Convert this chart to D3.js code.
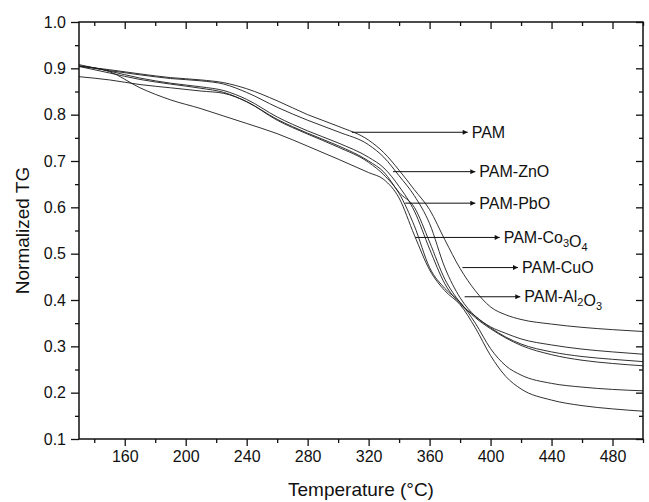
<!DOCTYPE html>
<html>
<head>
<meta charset="utf-8">
<script src="https://cdn.jsdelivr.net/npm/d3@7"></script>
<style>
  html, body { margin: 0; padding: 0; background: #fff; }
  svg { display: block; }
  text { font-family: "Liberation Sans", Arial, Helvetica, sans-serif; fill: #111; }
</style>
</head>
<body>
<svg id="chart" width="649" height="502"></svg>
<script>
// ---- data ----
const temps = [130,150,170,190,210,225,240,260,280,300,320,330,340,350,360,370,380,390,400,410,420,440,460,480,500];

const pam    = [.905,.897,.888,.880,.875,.869,.856,.830,.800,.775,.745,.718,.680,.638,.595,.530,.468,.420,.385,.368,.358,.348,.341,.336,.332];
const pamZnO = [.905,.895,.886,.878,.873,.866,.848,.816,.788,.763,.735,.708,.668,.625,.565,.470,.405,.365,.342,.328,.316,.303,.294,.288,.283];
const pamPbO = [.908,.894,.879,.868,.860,.852,.833,.795,.765,.739,.708,.685,.645,.592,.510,.435,.392,.365,.340,.320,.305,.288,.278,.272,.267];
const pamCo  = [.904,.890,.876,.866,.857,.848,.828,.790,.760,.733,.700,.676,.632,.600,.525,.445,.395,.362,.338,.318,.302,.282,.270,.263,.258];
const pamCuO = [.882,.875,.865,.858,.851,.846,.828,.788,.758,.730,.697,.670,.630,.560,.470,.425,.395,.350,.295,.258,.238,.220,.212,.207,.204];
const pamAl  = [.905,.893,.858,.832,.813,.797,.781,.759,.732,.704,.675,.660,.620,.540,.465,.420,.390,.340,.280,.235,.208,.184,.172,.165,.160];

const seriesNames = ["PAM","PAM-ZnO","PAM-PbO","PAM-Co3O4","PAM-CuO","PAM-Al2O3"];
const seriesValues = [pam, pamZnO, pamPbO, pamCo, pamCuO, pamAl];

// annotation arrows: label (with _n subscripts), y value, start temperature, end temperature
const arrowLabels = ["PAM","PAM-ZnO","PAM-PbO","PAM-Co_3O_4","PAM-CuO","PAM-Al_2O_3"];
const arrowY      = [0.762, 0.677, 0.609, 0.535, 0.470, 0.407];
const arrowStartT = [309, 336, 344, 350.5, 381.5, 383];
const arrowEndT   = [385, 390, 390, 406, 418, 419.5];

const xTicks = [160,200,240,280,320,360,400,440,480];
const yTicks = [0.1,0.2,0.3,0.4,0.5,0.6,0.7,0.8,0.9,1.0];

// ---- drawing ----
const svg = d3.select("#chart");
const L = 79, R = 643, T = 22, B = 439;
const x = d3.scaleLinear().domain([130, 500]).range([L, R]);
const y = d3.scaleLinear().domain([0.1, 1.0]).range([B, T]);

const minorX = d3.range(140, 501, 20).filter(v => !xTicks.includes(v));
const minorY = d3.range(0.15, 1.0, 0.1).map(v => +v.toFixed(2));

// curves
const line = d3.line().x(d => x(d[0])).y(d => y(d[1])).curve(d3.curveMonotoneX);
svg.append("g").selectAll("path").data(seriesValues).join("path")
  .attr("d", vals => line(temps.map((t, i) => [t, vals[i]])))
  .attr("fill", "none").attr("stroke", "#1a1a1a").attr("stroke-width", 0.9);

// axes
function styleAxis(g) {
  g.select(".domain").remove();
  g.selectAll(".tick line").attr("stroke", "#111").attr("stroke-width", 1.3);
  g.selectAll(".tick text").style("font-size", "16px").attr("fill", "#111");
}
svg.append("g").attr("transform", `translate(0,${B})`)
  .call(d3.axisBottom(x).tickValues(xTicks).tickSize(7).tickPadding(5).tickFormat(d3.format("d")))
  .call(styleAxis);
svg.append("g").attr("transform", `translate(0,${B})`)
  .call(d3.axisBottom(x).tickValues(minorX).tickSize(4).tickFormat(""))
  .call(styleAxis);
svg.append("g").attr("transform", `translate(${L},0)`)
  .call(d3.axisLeft(y).tickValues(yTicks).tickSize(8).tickPadding(5).tickFormat(d3.format(".1f")))
  .call(styleAxis);
svg.append("g").attr("transform", `translate(${L},0)`)
  .call(d3.axisLeft(y).tickValues(minorY).tickSize(4).tickFormat(""))
  .call(styleAxis);
// mirror ticks (inward) on top and right
svg.append("g").attr("transform", `translate(0,${T})`)
  .call(d3.axisBottom(x).tickValues(xTicks).tickSize(7).tickFormat(""))
  .call(styleAxis);
svg.append("g").attr("transform", `translate(0,${T})`)
  .call(d3.axisBottom(x).tickValues(minorX).tickSize(4).tickFormat(""))
  .call(styleAxis);
svg.append("g").attr("transform", `translate(${R},0)`)
  .call(d3.axisLeft(y).tickValues(yTicks).tickSize(7).tickFormat(""))
  .call(styleAxis);
svg.append("g").attr("transform", `translate(${R},0)`)
  .call(d3.axisLeft(y).tickValues(minorY).tickSize(4).tickFormat(""))
  .call(styleAxis);

// frame
svg.append("rect").attr("x", L).attr("y", T).attr("width", R - L).attr("height", B - T)
  .attr("fill", "none").attr("stroke", "#111").attr("stroke-width", 1.5);

// axis titles
svg.append("text").attr("x", (L + R) / 2).attr("y", 496).attr("text-anchor", "middle")
  .style("font-size", "19px").text("Temperature (°C)");
svg.append("text").attr("transform", `translate(29,${(T + B) / 2}) rotate(-90)`)
  .attr("text-anchor", "middle").style("font-size", "19px").text("Normalized TG");

// arrowhead marker
svg.append("defs").append("marker").attr("id", "ah")
  .attr("viewBox", "0 0 10 10").attr("refX", 10).attr("refY", 5)
  .attr("markerWidth", 7).attr("markerHeight", 5).attr("markerUnits", "userSpaceOnUse")
  .attr("orient", "auto")
  .append("path").attr("d", "M0,0 L10,5 L0,10 Z").attr("fill", "#111");

const ann = svg.append("g");
arrowLabels.forEach((lab, i) => {
  const yy = y(arrowY[i]);
  ann.append("line").attr("x1", x(arrowStartT[i])).attr("x2", x(arrowEndT[i]))
    .attr("y1", yy).attr("y2", yy).attr("stroke", "#111").attr("stroke-width", 1)
    .attr("marker-end", "url(#ah)");
  const t = ann.append("text").attr("x", x(arrowEndT[i]) + 4).attr("y", yy + 5.5)
    .style("font-size", "16px");
  const parts = lab.split(/(_\d)/).filter(s => s.length);
  parts.forEach(p => {
    if (p.startsWith("_")) {
      t.append("tspan").attr("dy", 4).style("font-size", "11px").text(p.slice(1));
      t.append("tspan").attr("dy", -4).text("");
    } else {
      t.append("tspan").text(p);
    }
  });
});
</script>
</body>
</html>
